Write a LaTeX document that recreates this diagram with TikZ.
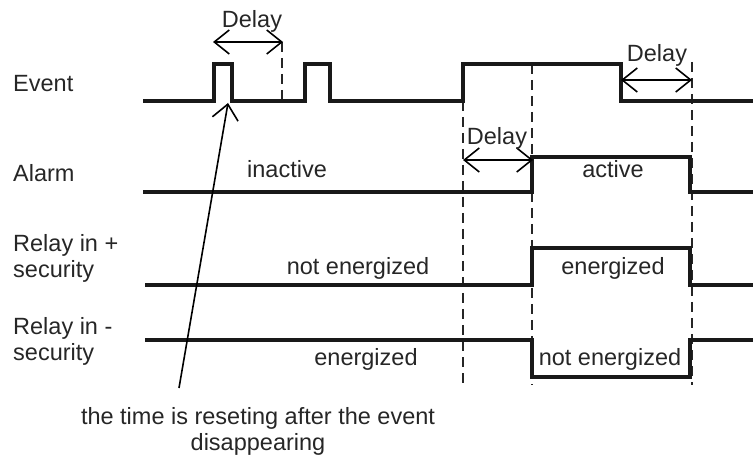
\documentclass[tikz,border=0pt]{standalone}
\usepackage{fontspec}
\setmainfont{Liberation Sans}
\usetikzlibrary{arrows.meta}
\begin{document}
\begin{tikzpicture}[x=1pt,y=-1pt,
  signal/.style={line width=4.5pt,line join=miter,color=black!90},
  guide/.style={line width=1.1pt,dash pattern=on 10pt off 6pt,color=black!85},
  span/.style={line width=1.6pt,{Straight Barb[length=15pt,width=24pt]}-{Straight Barb[length=15pt,width=24pt]}},
  pointer/.style={line width=1.6pt,-{Straight Barb[length=15pt,width=26pt]}},
  lbl/.style={font=\fontsize{23.5}{26}\selectfont,inner sep=0pt,text=black!85},
  rowlbl/.style={lbl,anchor=base west,align=left}]
\useasboundingbox (0,0) rectangle (753,457);

% row labels (base anchor sits on the last line)
\node[rowlbl] (lev) at (13,92) {Event};
\node[rowlbl] (lal) at (13,182) {Alarm};
\node[rowlbl] (lrp) at (13,278) {Relay in +\\security};
\node[rowlbl] (lrm) at (13,360) {Relay in -\\security};

% dashed time markers
\coordinate (d1t) at (282,42);  \coordinate (d1b) at (282,101);
\coordinate (d2t) at (463,101); \coordinate (d2b) at (463,385);
\coordinate (d3t) at (532,64);  \coordinate (d3b) at (532,385);
\coordinate (d4t) at (692,62);  \coordinate (d4b) at (692,385);
\draw[guide] (d1t) -- (d1b);
\draw[guide] (d2t) -- (d2b);
\draw[guide] (d3t) -- (d3b);
\draw[guide] (d4t) -- (d4b);

% waveforms
\draw[signal] (143,101) -- (214,101) -- (214,64) -- (232,64) -- (232,101)
  -- (305,101) -- (305,64) -- (330,64) -- (330,101) -- (463,101) -- (463,64)
  -- (621,64) -- (621,101) -- (753,101);
\draw[signal] (143,192) -- (532,192) -- (532,157) -- (690,157) -- (690,192) -- (753,192);
\draw[signal] (145,285) -- (532,285) -- (532,248) -- (690,248) -- (690,285) -- (753,285);
\draw[signal] (145,340) -- (532,340) -- (532,377) -- (690,377) -- (690,340) -- (753,340);

% delay spans
\coordinate (a1l) at (213,42);  \coordinate (a1r) at (283,42);
\coordinate (a2l) at (463,160); \coordinate (a2r) at (533,160);
\coordinate (a3l) at (621,80);  \coordinate (a3r) at (692,80);
\draw[span] (a1l) -- (a1r);
\draw[span] (a2l) -- (a2r);
\draw[span] (a3l) -- (a3r);
\node[lbl,anchor=base] (t1) at (252,28) {Delay};
\node[lbl,anchor=base] (t2) at (497,145) {Delay};
\node[lbl,anchor=base] (t3) at (657,62) {Delay};

% state texts
\node[lbl,anchor=base] (s1) at (287,178) {inactive};
\node[lbl,anchor=base] (s2) at (613,178) {active};
\node[lbl,anchor=base] (s3) at (358,275) {not energized};
\node[lbl,anchor=base] (s4) at (613,275) {energized};
\node[lbl,anchor=base] (s5) at (366,365) {energized};
\node[lbl,anchor=base] (s6) at (610,365) {not energized};

% explanatory note and its pointer
\node[lbl,anchor=base,align=center] (note) at (258,450) {the time is reseting after the event\\disappearing};
\coordinate (pt) at (228,103);
\coordinate (pb) at (179,388);
\draw[pointer] (pb) -- (pt);
\end{tikzpicture}
\end{document}
